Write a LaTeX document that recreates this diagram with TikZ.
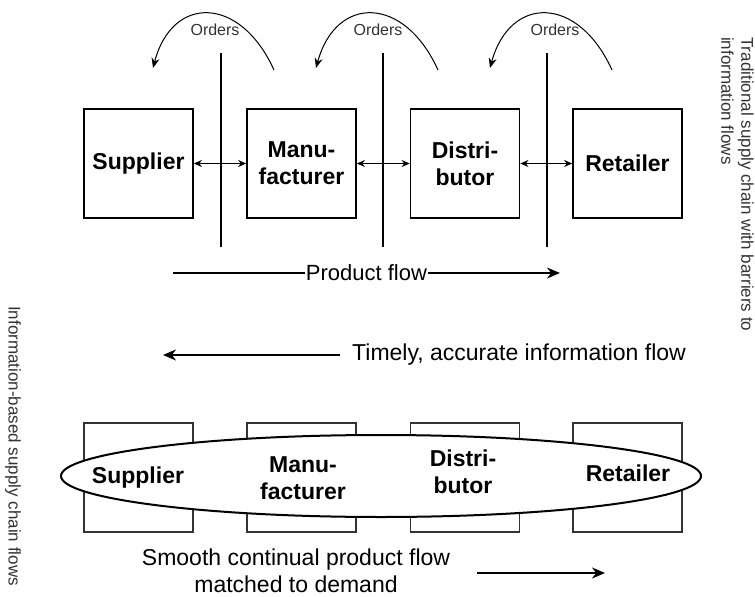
\documentclass[tikz,border=0pt]{standalone}
\usepackage{fontspec}
\setmainfont{Liberation Sans}
\usetikzlibrary{arrows.meta,shapes.geometric}
\begin{document}
\begin{tikzpicture}[x=1pt,y=-1pt,
  box/.style={draw, line width=1.8pt, minimum width=109pt, minimum height=109pt, inner sep=0pt, font=\bfseries\fontsize{23}{27}\selectfont, align=center},
  lbox/.style={draw=black!80, line width=1.1pt, minimum width=109pt, minimum height=109pt, inner sep=0pt},
  lab/.style={font=\bfseries\fontsize{23}{27}\selectfont, align=center, inner sep=0pt},
  barrier/.style={line width=2.4pt},
  dbl/.style={line width=1.2pt, {Stealth[length=8pt,width=7pt]}-{Stealth[length=8pt,width=7pt]}},
  ord/.style={line width=1pt, -{Stealth[length=10pt,width=8pt]}},
  flow/.style={line width=2pt, -{Stealth[length=13pt,width=11pt]}},
  txt/.style={font=\fontsize{23}{27}\selectfont, inner sep=0pt},
  small/.style={font=\fontsize{16}{20}\selectfont, inner sep=0pt, text=black!80},
]
\useasboundingbox (0,0) rectangle (755,597);

% ---- top: traditional chain ----
\node[box] (s1) at (138.5,163.5) {Supplier};
\node[box] (m1) at (301.5,163.5) {Manu-\\facturer};
\node[box] (d1) at (465,163.5) {Distri-\\butor};
\node[box] (r1) at (627.5,163.5) {Retailer};

\coordinate (b1t) at (221,53);  \coordinate (b1b) at (221,247);
\coordinate (b2t) at (383,53);  \coordinate (b2b) at (383,247);
\coordinate (b3t) at (547,53);  \coordinate (b3b) at (547,247);
\draw[barrier] (b1t) -- (b1b);
\draw[barrier] (b2t) -- (b2b);
\draw[barrier] (b3t) -- (b3b);

\draw[dbl] (s1.east) -- (m1.west);
\draw[dbl] (m1.east) -- (d1.west);
\draw[dbl] (d1.east) -- (r1.west);

\coordinate (o1s) at (274,70); \coordinate (o1e) at (153,68);
\coordinate (o2s) at (438,70); \coordinate (o2e) at (316,68);
\coordinate (o3s) at (612,70); \coordinate (o3e) at (490,68);
\draw[ord] (o1s) .. controls (240,-5) and (172,-5) .. (o1e);
\draw[ord] (o2s) .. controls (404,-5) and (336,-5) .. (o2e);
\draw[ord] (o3s) .. controls (578,-5) and (510,-5) .. (o3e);
\node[small] (ot1) at (215,30) {Orders};
\node[small] (ot2) at (378,30) {Orders};
\node[small] (ot3) at (555,30) {Orders};

\coordinate (pf1) at (173,273); \coordinate (pf2) at (560,273);
\draw[flow] (pf1) -- (pf2) node[pos=0.5, fill=white, font=\fontsize{22}{27}\selectfont, inner sep=0pt, inner xsep=1pt] (pft) {Product flow};

\node[small, rotate=-90, anchor=north west, align=left, font=\fontsize{17}{20}\selectfont] (trad) at (754,37) {Traditional supply chain with barriers to\\information flows};

% ---- bottom: information-based ----
\node[txt, anchor=west] (tft) at (352,355) {Timely, accurate information flow};
\coordinate (tf2) at (163,355);
\draw[flow, shorten <=12pt] (tft.west) -- (tf2);

\node[lbox] (s2) at (138.5,477.5) {};
\node[lbox] (m2) at (301.5,477.5) {};
\node[lbox] (d2) at (465,477.5) {};
\node[lbox] (r2) at (627.5,477.5) {};
\node[ellipse, draw, fill=white, line width=2pt, inner sep=0pt, minimum width=640pt, minimum height=82pt] (ell) at (381,476) {};
\node[lab] (s2l) at (138,478) {Supplier};
\node[lab] (m2l) at (303,478) {Manu-\\facturer};
\node[lab] (d2l) at (463,472) {Distri-\\butor};
\node[lab] (r2l) at (628,473) {Retailer};

\node[txt, align=center] (smooth) at (296,571) {Smooth continual product flow\\matched to demand};
\coordinate (sa1) at (477,573); \coordinate (sa2) at (605,573);
\draw[flow] (sa1) -- (sa2);

\node[small, rotate=-90, anchor=west, font=\fontsize{17}{20}\selectfont] (info) at (13,306) {Information-based supply chain flows};
\end{tikzpicture}
\end{document}
